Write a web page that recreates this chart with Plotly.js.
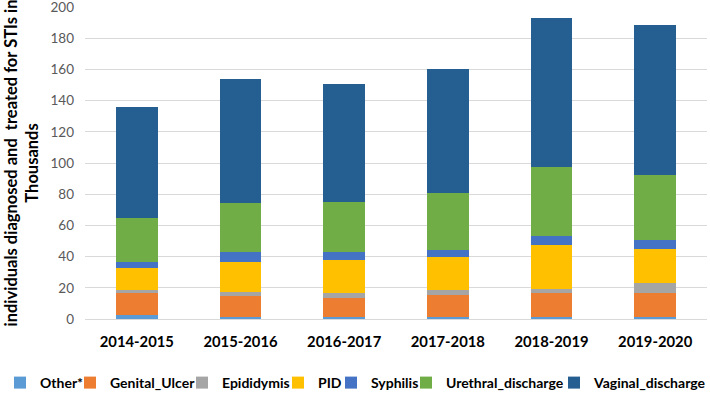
<!DOCTYPE html>
<html>
<head>
<meta charset="utf-8">
<script src="https://cdn.plot.ly/plotly-3.0.1.min.js"></script>
<style>
  html, body { margin: 0; padding: 0; background: #fff; }
  #chart { width: 710px; height: 400px; }
</style>
</head>
<body>
<div id="chart"></div>
<script>
// years on the x axis
const years = ['2014-2015', '2015-2016', '2016-2017', '2017-2018', '2018-2019', '2019-2020'];

// values in thousands
const other      = [2.8, 1.4, 1.4, 1.6, 1.6, 1.2];
const genital    = [13.6, 13.5, 12.2, 13.8, 15.2, 15.2];
const epididymis = [2.1, 2.5, 2.8, 3.0, 2.7, 6.4];
const pid        = [14.1, 19.2, 21.3, 21.1, 28.0, 21.9];
const syphilis   = [4.1, 6.2, 5.0, 4.5, 5.9, 5.8];
const urethral   = [28.0, 31.3, 32.3, 36.9, 43.9, 42.0];
const vaginal    = [71.0, 79.6, 75.5, 79.2, 95.7, 96.1];

const seriesNames = ['Other*', 'Genital_Ulcer', 'Epididymis', 'PID', 'Syphilis', 'Urethral_discharge', 'Vaginal_discharge'];
const seriesData = [other, genital, epididymis, pid, syphilis, urethral, vaginal];
const colors = ['#5B9BD5', '#ED7D31', '#A5A5A5', '#FFC000', '#4472C4', '#70AD47', '#255E91'];

// one legend per series so each entry can sit where it does in the picture (px from left)
const legendLeft = [-5, 70, 182, 278, 331, 406, 554];

const font = 'Lato, "Open Sans", sans-serif';

let traces = [];
for (let i = 0; i < seriesNames.length; i++) {
  traces.push({
    x: years,
    y: seriesData[i],
    name: seriesNames[i],
    type: 'bar',
    legend: i == 0 ? 'legend' : 'legend' + (i + 1),
    marker: { color: colors[i] },
    hoverinfo: 'name+y'
  });
}

const layout = {
  width: 710,
  height: 400,
  barmode: 'stack',
  bargap: 0.6,
  showlegend: true,
  margin: { l: 85, r: 3, t: 7, b: 81 },
  paper_bgcolor: '#ffffff',
  plot_bgcolor: '#ffffff',
  font: { family: font, size: 13, color: '#000' },
  xaxis: {
    tickfont: { family: font, size: 14.8, color: '#000', weight: 'bold' },
    showline: false,
    ticks: '',
    ticklabelstandoff: 12,
    showgrid: false
  },
  yaxis: {
    range: [0, 200],
    tickvals: [0, 20, 40, 60, 80, 100, 120, 140, 160, 180, 200],
    tickfont: { family: font, size: 13.5, color: '#595959' },
    ticklabeloverflow: 'allow',
    ticklabelstandoff: 10,
    gridcolor: '#D9D9D9',
    gridwidth: 1,
    zeroline: true,
    zerolinecolor: '#D9D9D9',
    ticks: '',
    title: {
      text: 'individuals diagnosed and  treated for STIs in<br>Thousands',
      font: { family: font, size: 16.5, color: '#000', weight: 'bold' },
      standoff: 7
    }
  }
};

for (let i = 0; i < seriesNames.length; i++) {
  layout[i == 0 ? 'legend' : 'legend' + (i + 1)] = {
    orientation: 'h',
    x: legendLeft[i] / 710,
    xanchor: 'left',
    xref: 'container',
    y: 17 / 400,
    yref: 'container',
    yanchor: 'middle',
    itemwidth: 30,
    bgcolor: 'rgba(0,0,0,0)',
    font: { family: font, size: 14, color: '#000', weight: 'bold' }
  };
}

const config = { displayModeBar: false, staticPlot: true };
Plotly.newPlot('chart', traces, layout, config);
// legend widths are measured from the text, so draw again once the fonts are ready
if (document.fonts && document.fonts.ready) {
  document.fonts.ready.then(function () { Plotly.react('chart', traces, layout, config); });
}
</script>
</body>
</html>
